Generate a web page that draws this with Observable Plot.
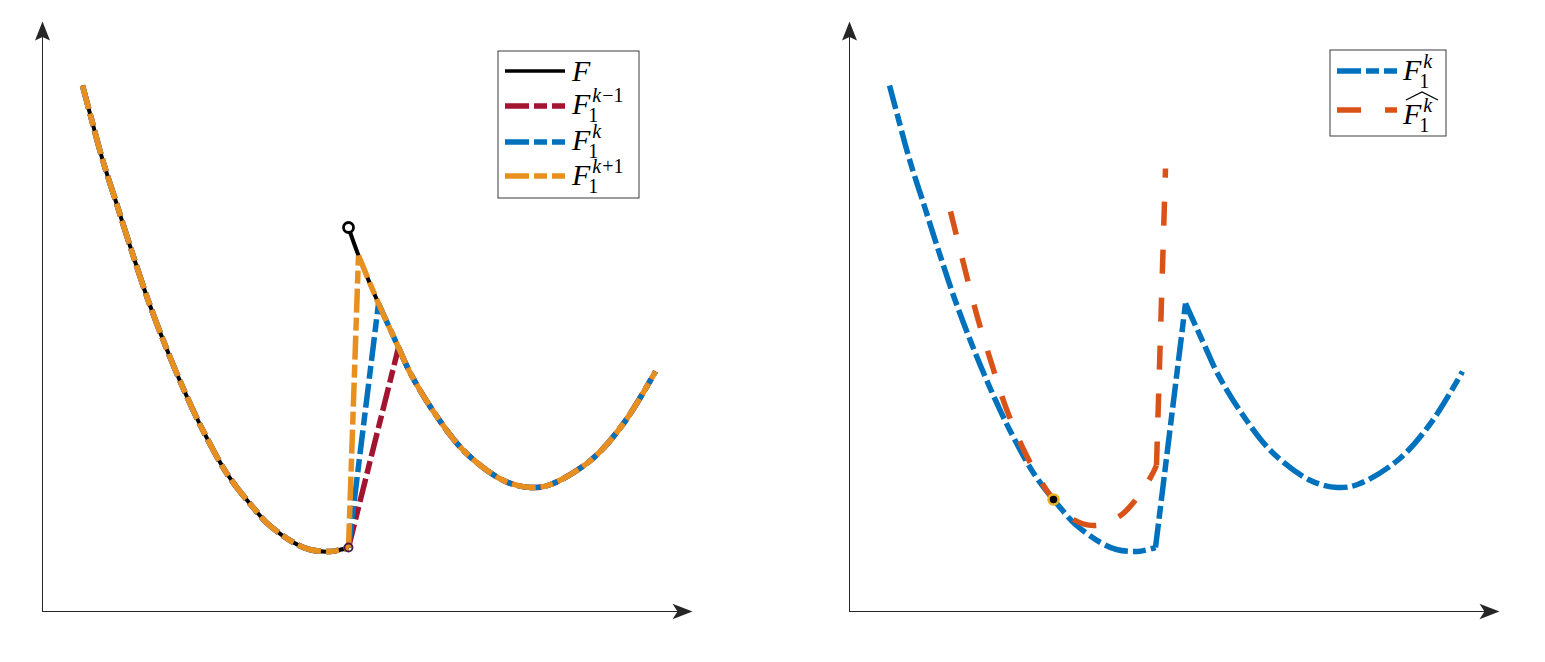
<!DOCTYPE html>
<html><head><meta charset="utf-8">
<script src="https://cdn.jsdelivr.net/npm/d3@7"></script>
<script src="https://cdn.jsdelivr.net/npm/@observablehq/plot@0.6"></script>
<style>
html,body{margin:0;padding:0;background:#fff;}
#wrap{position:relative;width:1545px;height:662px;overflow:hidden;background:#fff;}
#left,#right{position:absolute;top:0;}
#left{left:0;} #right{left:807px;}
svg{max-width:none !important;}
</style></head><body><div id="wrap"><div id="left"></div><div id="right"></div></div>
<script>
// ---- data (arbitrary units) ----
const fLeftX  = [40, 48, 60, 75, 89, 105, 122, 136, 148, 161, 185, 214, 226, 251, 267, 288, 306];
const fLeftY  = [526, 496, 452, 405, 361, 313, 268, 234, 207, 180, 137, 100, 87, 69, 62, 60, 64];
const fRightX = [306, 316, 336, 356, 368, 393, 423, 461, 488, 508, 548, 581, 613];
const fRightY = [384, 356, 308, 264, 238, 197, 159, 131, 124, 127, 151, 188, 240];
const modelNames = ["F1^{k-1}", "F1^{k}", "F1^{k+1}"];
const modelJoinX = [356, 336, 316];
const hatX = [101, 114, 128, 143, 156, 176, 194, 204, 224, 246, 271, 284, 301, 307];
const hatY = [400, 348, 294, 245, 205, 158, 126, 112, 92, 86, 96, 109, 134, 146];
const hatTopX = [307, 316];
const hatTopY = [146, 443];
const probeX = [204];
const probeY = [112];
const xDomain = [0, 650];
const yDomain = [0, 590];

// ---- styles ----
const colRed = "#A2142F", colBlue = "#0072BD", colOrange = "#E8901F", colHat = "#D95319", axisCol = "#262626";
const dashModel = "24,5,13,5";
const dashHat = "24,24";
const lw = 5.5;

// ---- helpers ----
function modelRows(joinX) {
  const rows = [];
  fLeftX.forEach((x, i) => rows.push({seg: "a", x, y: fLeftY[i]}));
  const j = fRightX.indexOf(joinX);
  rows.push({seg: "b", x: fLeftX[fLeftX.length - 1], y: fLeftY[fLeftY.length - 1]});
  rows.push({seg: "b", x: fRightX[j], y: fRightY[j]});
  for (let i = j; i < fRightX.length; i++) rows.push({seg: "c", x: fRightX[i], y: fRightY[i]});
  return rows;
}
const fRows = [
  ...fLeftX.map((x, i) => ({seg: "a", x, y: fLeftY[i]})),
  ...fRightX.map((x, i) => ({seg: "c", x, y: fRightY[i]}))
];
const hatRows = [
  ...hatX.map((x, i) => ({seg: "a", x, y: hatY[i]})),
  ...hatTopX.map((x, i) => ({seg: "b", x, y: hatTopY[i]}))
];

const arrowUp = {draw(ctx) { ctx.moveTo(0, 0); ctx.lineTo(-7.5, 19); ctx.lineTo(0, 15.5); ctx.lineTo(7.5, 19); ctx.closePath(); }};
const arrowRight = {draw(ctx) { ctx.moveTo(0, 0); ctx.lineTo(-20, -7.7); ctx.lineTo(-15, 0); ctx.lineTo(-20, 7.7); ctx.closePath(); }};

function axesMarks() {
  return [
    Plot.ruleY([0], {x1: 0, x2: 636, stroke: axisCol, strokeWidth: 1}),
    Plot.ruleX([0], {y1: 0, y2: 574, stroke: axisCol, strokeWidth: 1}),
    Plot.dot([{x: xDomain[1], y: 0}], {x: "x", y: "y", symbol: arrowRight, fill: axisCol, stroke: "none", r: 5}),
    Plot.dot([{x: 0, y: yDomain[1]}], {x: "x", y: "y", symbol: arrowUp, fill: axisCol, stroke: "none", r: 5})
  ];
}
function modelLine(rows, color, dash) {
  return Plot.line(rows, {x: "x", y: "y", z: "seg", curve: "catmull-rom", stroke: color, strokeWidth: lw,
    strokeDasharray: dash, strokeLinecap: "butt", strokeLinejoin: "round"});
}

const serif = "'Liberation Serif', 'DejaVu Serif', serif";
function mathLabel(g, x, base, sup, hat) {
  const t = g.append("text").attr("x", x).attr("y", base).attr("text-anchor", "start")
    .attr("font-family", serif).attr("fill", "#000");
  t.append("tspan").attr("font-style", "italic").style("font-size", "30px").text("F");
  if (sup !== null) {
    t.append("tspan").attr("font-style", "normal").style("font-size", "20px").attr("dx", -2).attr("dy", 8).text("1");
    t.append("tspan").attr("font-style", "italic").style("font-size", "20px").attr("dx", -6).attr("dy", -20).text("k");
    if (sup) t.append("tspan").attr("font-style", "normal").style("font-size", "20px").attr("dx", 1).text(sup);
  }
  if (hat) {
    g.append("path").attr("d", `M${x + 3},${base - 24} L${x + 19},${base - 32} L${x + 35},${base - 24}`)
      .attr("fill", "none").attr("stroke", "#000").attr("stroke-width", 1.3);
  }
}
function legend(svg, box, rows) {
  const g = d3.select(svg).append("g");
  g.append("rect").attr("x", box[0]).attr("y", box[1]).attr("width", box[2]).attr("height", box[3])
    .attr("fill", "#fff").attr("stroke", axisCol).attr("stroke-width", 0.9);
  rows.forEach(r => {
    g.append("line").attr("x1", r.x1).attr("x2", r.x2).attr("y1", r.y).attr("y2", r.y)
      .attr("stroke", r.color).attr("stroke-width", r.w).attr("stroke-dasharray", r.dash || null);
    mathLabel(g, r.tx, r.base, r.sup, r.hat);
  });
}

// ---- left panel ----
const left = Plot.plot({
  width: 772, height: 662, marginLeft: 42, marginRight: 80, marginTop: 21, marginBottom: 51,
  x: {domain: xDomain, axis: null}, y: {domain: yDomain, axis: null},
  marks: [
    ...axesMarks(),
    Plot.line(fRows, {x: "x", y: "y", z: "seg", curve: "catmull-rom", stroke: "#000", strokeWidth: 4, strokeLinecap: "butt"}),
    modelLine(modelRows(modelJoinX[0]), colRed, dashModel),
    modelLine(modelRows(modelJoinX[1]), colBlue, dashModel),
    modelLine(modelRows(modelJoinX[2]), colOrange, dashModel),
    Plot.dot([{x: fLeftX[fLeftX.length - 1], y: fLeftY[fLeftY.length - 1]}], {x: "x", y: "y", r: 4, stroke: "#4a1850", strokeWidth: 1.8, fill: "none"}),
    Plot.dot([{x: fRightX[0], y: fRightY[0]}], {x: "x", y: "y", r: 5, stroke: "#000", strokeWidth: 2.8, fill: "#fff"})
  ]
});
legend(left, [498, 51, 141, 147], [
  {x1: 505, x2: 565, y: 71, color: "#000", w: 3.5, dash: null, tx: 572, base: 81, sup: null},
  {x1: 505, x2: 565, y: 106, color: colRed, w: lw, dash: dashModel, tx: 572, base: 114, sup: "\u22121"},
  {x1: 505, x2: 565, y: 142, color: colBlue, w: lw, dash: dashModel, tx: 572, base: 150, sup: ""},
  {x1: 505, x2: 565, y: 176, color: colOrange, w: lw, dash: dashModel, tx: 572, base: 185, sup: "+1"}
]);
document.getElementById("left").appendChild(left);

// ---- right panel ----
const right = Plot.plot({
  width: 738, height: 662, marginLeft: 42, marginRight: 46, marginTop: 21, marginBottom: 51,
  x: {domain: xDomain, axis: null}, y: {domain: yDomain, axis: null},
  marks: [
    ...axesMarks(),
    modelLine(modelRows(modelJoinX[1]), colBlue, dashModel),
    Plot.line(hatRows, {x: "x", y: "y", z: "seg", curve: "catmull-rom", stroke: colHat, strokeWidth: lw,
      strokeDasharray: dashHat, strokeLinecap: "butt"}),
    Plot.dot(probeX.map((x, i) => ({x, y: probeY[i]})), {x: "x", y: "y", r: 5, fill: "#000", stroke: "#EDB120", strokeWidth: 2.5})
  ]
});
legend(right, [523, 50, 116, 86], [
  {x1: 530, x2: 590, y: 71, color: colBlue, w: lw, dash: dashModel, tx: 596, base: 80, sup: ""},
  {x1: 530, x2: 590, y: 110, color: colHat, w: lw, dash: dashHat, tx: 596, base: 124, sup: "", hat: true}
]);
document.getElementById("right").appendChild(right);
</script></body></html>
